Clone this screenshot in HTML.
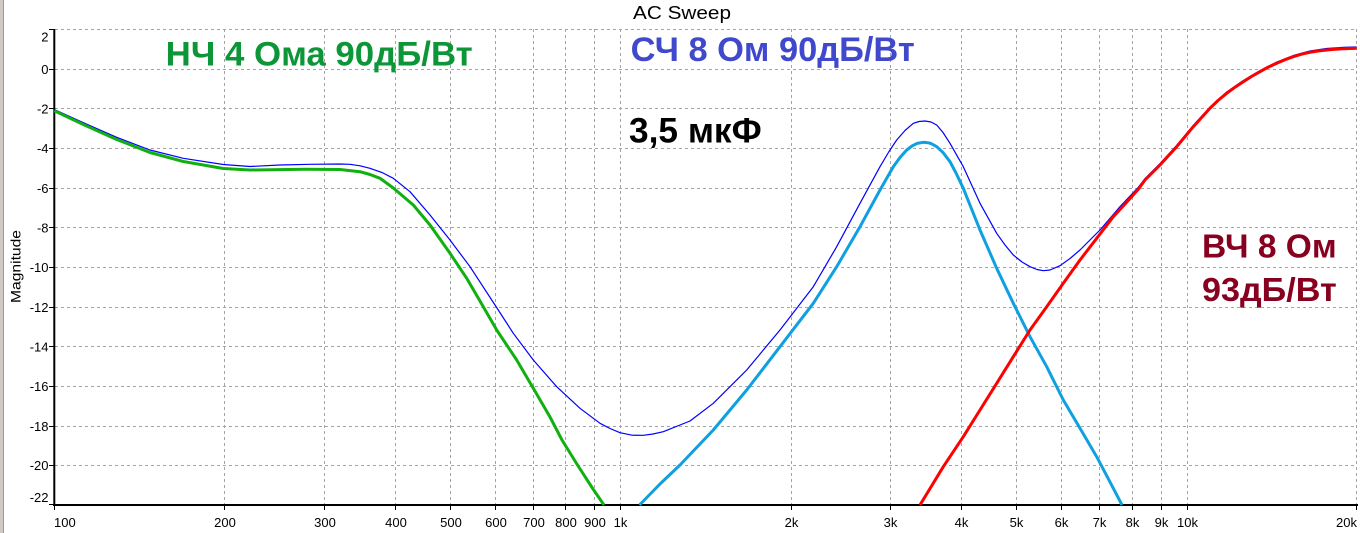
<!DOCTYPE html>
<html><head><meta charset="utf-8"><style>
html,body{margin:0;padding:0;background:#fff;}
svg{display:block;}
</style></head><body>
<svg width="1360" height="533" viewBox="0 0 1360 533" xmlns="http://www.w3.org/2000/svg">
<rect x="0" y="0" width="1360" height="533" fill="#fff"/>
<rect x="0" y="0" width="3" height="533" fill="#cfcbc4"/>
<rect x="3" y="0" width="1" height="533" fill="#9c9a96"/>

<!-- title -->
<text x="633" y="19" font-family="Liberation Sans, sans-serif" font-size="18" textLength="98" lengthAdjust="spacingAndGlyphs" fill="#000">AC Sweep</text>

<!-- grid -->
<g stroke="#a4a4a4" stroke-width="1" stroke-dasharray="3,3" fill="none">
<line x1="55" y1="29.5" x2="1357" y2="29.5"/>
<line x1="55" y1="69.5" x2="1357" y2="69.5"/>
<line x1="55" y1="108.5" x2="1357" y2="108.5"/>
<line x1="55" y1="148.5" x2="1357" y2="148.5"/>
<line x1="55" y1="188.5" x2="1357" y2="188.5"/>
<line x1="55" y1="227.5" x2="1357" y2="227.5"/>
<line x1="55" y1="267.5" x2="1357" y2="267.5"/>
<line x1="55" y1="307.5" x2="1357" y2="307.5"/>
<line x1="55" y1="346.5" x2="1357" y2="346.5"/>
<line x1="55" y1="386.5" x2="1357" y2="386.5"/>
<line x1="55" y1="426.5" x2="1357" y2="426.5"/>
<line x1="55" y1="465.5" x2="1357" y2="465.5"/>
<line x1="224.5" y1="29" x2="224.5" y2="505"/>
<line x1="324.5" y1="29" x2="324.5" y2="505"/>
<line x1="395.5" y1="29" x2="395.5" y2="505"/>
<line x1="450.5" y1="29" x2="450.5" y2="505"/>
<line x1="495.5" y1="29" x2="495.5" y2="505"/>
<line x1="533.5" y1="29" x2="533.5" y2="505"/>
<line x1="565.5" y1="29" x2="565.5" y2="505"/>
<line x1="594.5" y1="29" x2="594.5" y2="505"/>
<line x1="620.5" y1="29" x2="620.5" y2="505"/>
<line x1="791.5" y1="29" x2="791.5" y2="505"/>
<line x1="890.5" y1="29" x2="890.5" y2="505"/>
<line x1="961.5" y1="29" x2="961.5" y2="505"/>
<line x1="1016.5" y1="29" x2="1016.5" y2="505"/>
<line x1="1061.5" y1="29" x2="1061.5" y2="505"/>
<line x1="1099.5" y1="29" x2="1099.5" y2="505"/>
<line x1="1132.5" y1="29" x2="1132.5" y2="505"/>
<line x1="1161.5" y1="29" x2="1161.5" y2="505"/>
<line x1="1187.5" y1="29" x2="1187.5" y2="505"/>
<line x1="1356.5" y1="29" x2="1356.5" y2="505"/>
</g>

<!-- axes -->
<g stroke="#000" fill="none">
<line x1="54.3" y1="29" x2="54.3" y2="506" stroke-width="2"/>
<line x1="53" y1="505" x2="1358" y2="505" stroke-width="2"/>
<g stroke-width="1">
<line x1="49" y1="29.5" x2="54" y2="29.5"/>
<line x1="49" y1="69.5" x2="54" y2="69.5"/>
<line x1="49" y1="108.5" x2="54" y2="108.5"/>
<line x1="49" y1="148.5" x2="54" y2="148.5"/>
<line x1="49" y1="188.5" x2="54" y2="188.5"/>
<line x1="49" y1="227.5" x2="54" y2="227.5"/>
<line x1="49" y1="267.5" x2="54" y2="267.5"/>
<line x1="49" y1="307.5" x2="54" y2="307.5"/>
<line x1="49" y1="346.5" x2="54" y2="346.5"/>
<line x1="49" y1="386.5" x2="54" y2="386.5"/>
<line x1="49" y1="426.5" x2="54" y2="426.5"/>
<line x1="49" y1="465.5" x2="54" y2="465.5"/>
<line x1="49" y1="504.5" x2="54" y2="504.5"/>
<line x1="54.5" y1="505" x2="54.5" y2="510"/>
<line x1="224.5" y1="505" x2="224.5" y2="510"/>
<line x1="324.5" y1="505" x2="324.5" y2="510"/>
<line x1="395.5" y1="505" x2="395.5" y2="510"/>
<line x1="450.5" y1="505" x2="450.5" y2="510"/>
<line x1="495.5" y1="505" x2="495.5" y2="510"/>
<line x1="533.5" y1="505" x2="533.5" y2="510"/>
<line x1="565.5" y1="505" x2="565.5" y2="510"/>
<line x1="594.5" y1="505" x2="594.5" y2="510"/>
<line x1="620.5" y1="505" x2="620.5" y2="510"/>
<line x1="791.5" y1="505" x2="791.5" y2="510"/>
<line x1="890.5" y1="505" x2="890.5" y2="510"/>
<line x1="961.5" y1="505" x2="961.5" y2="510"/>
<line x1="1016.5" y1="505" x2="1016.5" y2="510"/>
<line x1="1061.5" y1="505" x2="1061.5" y2="510"/>
<line x1="1099.5" y1="505" x2="1099.5" y2="510"/>
<line x1="1132.5" y1="505" x2="1132.5" y2="510"/>
<line x1="1161.5" y1="505" x2="1161.5" y2="510"/>
<line x1="1187.5" y1="505" x2="1187.5" y2="510"/>
<line x1="1356.5" y1="505" x2="1356.5" y2="510"/>
</g>
</g>

<!-- y labels -->
<g font-family="Liberation Sans, sans-serif" font-size="13" fill="#000" text-anchor="end">
<text x="48.5" y="41.5">2</text>
<text x="48.5" y="74">0</text>
<text x="48.5" y="113.5">-2</text>
<text x="48.5" y="153">-4</text>
<text x="48.5" y="193">-6</text>
<text x="48.5" y="232.5">-8</text>
<text x="48.5" y="272">-10</text>
<text x="48.5" y="312">-12</text>
<text x="48.5" y="351.5">-14</text>
<text x="48.5" y="391">-16</text>
<text x="48.5" y="431">-18</text>
<text x="48.5" y="470">-20</text>
<text x="48.5" y="502">-22</text>
</g>
<text transform="translate(20.5,266.5) rotate(-90)" font-family="Liberation Sans, sans-serif" font-size="14" text-anchor="middle" textLength="73" lengthAdjust="spacingAndGlyphs" fill="#000">Magnitude</text>

<!-- x labels -->
<g font-family="Liberation Sans, sans-serif" font-size="13" fill="#000" text-anchor="middle">
<text x="54" y="527" text-anchor="start">100</text>
<text x="225" y="527">200</text>
<text x="325" y="527">300</text>
<text x="396" y="527">400</text>
<text x="451" y="527">500</text>
<text x="496" y="527">600</text>
<text x="534" y="527">700</text>
<text x="566" y="527">800</text>
<text x="595" y="527">900</text>
<text x="620.5" y="527">1k</text>
<text x="791.5" y="527">2k</text>
<text x="890.5" y="527">3k</text>
<text x="961.5" y="527">4k</text>
<text x="1016.5" y="527">5k</text>
<text x="1061.5" y="527">6k</text>
<text x="1099.5" y="527">7k</text>
<text x="1132.5" y="527">8k</text>
<text x="1161.5" y="527">9k</text>
<text x="1187.5" y="527">10k</text>
<text x="1357" y="527" text-anchor="end">20k</text>
</g>

<!-- curves -->
<polyline fill="none" stroke="#0000ff" stroke-width="1.2" stroke-linejoin="round" points="54.3,109.5 83.3,122.7 116.7,137.3 150,150 183.3,158.3 223.3,164.5 250,166.5 280,165 310,164.3 340,164 350,164.3 360,165.8 370,168.3 382,172.5 393.3,178.3 410,191.7 430,215 450,240 470,266.7 495,305 513.3,333.3 533.3,360 556.7,386.7 580,408.3 600,423.3 610,428.5 620,432.7 632,435.2 643.3,435.3 653,434 663.3,431.7 680,425 690,421 713.3,403.3 746.7,370 780,330 813.3,286.7 836.7,246.7 860,203.3 880,166.7 889,151.5 896.7,140 905,130.5 913.3,123.3 919,121.5 925,121 931,122 936.7,125 943,132.5 950,143.3 963.3,166.7 980,203.3 996.7,233.3 1005,245 1013.3,255 1022,262 1030,266.7 1037,269.5 1043.3,270.7 1050,270 1060,265.7 1070,258.5 1080,250 1100,230 1120,206.7 1138.3,187.3 1145,178.5 1160,163.5 1176.7,145.3 1193.3,125.3 1210,107 1226.7,92 1243.3,80.5 1260,70.5 1276.7,62 1293.3,55.5 1310,51 1326.7,48.5 1343.3,47.3 1356.7,47"/>

<polyline fill="none" stroke="#10b010" stroke-width="3" stroke-linejoin="round" points="54.3,110.8 83.3,124.5 116.7,139.5 150,152.5 183.3,161.5 223.3,168.5 250,170 305,169.3 340,169.5 360,171.7 370,174.5 380,178.3 393.3,188 413.3,205 430,225 450,253.3 466.7,278.3 483.3,306.7 496.7,330 516.7,360 533.3,388.3 550,417 562,440 577.5,465 593,489 604,505"/>

<polyline fill="none" stroke="#0ea0e0" stroke-width="3" stroke-linejoin="round" points="639.5,505 660,484 680,465 713.3,430 746.7,390 780,346.7 813.3,303.3 836.7,266.7 860,226.7 880,190 893.3,166.7 900,157.5 906.7,150 912,146 917,143.4 923.3,142.3 928,142.7 931,143.5 936.7,146.7 943,152.5 950,161.7 956,173 963.3,188.3 980,230 996.7,268.3 1013.3,303.3 1030,336.7 1046.7,366.7 1063.3,400 1080,428.3 1096.7,456.7 1113.3,488.3 1122,505"/>

<polyline fill="none" stroke="#ff0000" stroke-width="3" stroke-linejoin="round" points="920,505 943.3,466.7 963.3,436.7 980,410 996.7,383.3 1013.3,356.7 1030,330 1046.7,306.7 1063.3,283.3 1080,260 1096.7,238.3 1113.3,216.7 1126,203 1138.3,189.3 1145,180 1160,165 1176.7,146.7 1193.3,126.7 1210,108.3 1218,100.5 1226.7,93.3 1235,87.2 1243.3,81.7 1251.5,76.5 1260,71.7 1268,67.2 1276.7,63.3 1285,59.7 1293.3,56.7 1301.5,54.2 1310,52.3 1318,51 1326.7,50 1335,49.2 1343.3,48.7 1356.7,48.3"/>

<!-- annotations -->
<g font-family="Liberation Sans, sans-serif" font-weight="bold">
<text x="165.7" y="65.7" font-size="34" fill="#0c9637" textLength="307" lengthAdjust="spacingAndGlyphs">НЧ 4 Ома 90дБ/Вт</text>
<text x="630.7" y="61" font-size="34" fill="#4048cc" textLength="284" lengthAdjust="spacingAndGlyphs">СЧ 8 Ом 90дБ/Вт</text>
<text x="629" y="142.3" font-size="35" fill="#000" textLength="132.7" lengthAdjust="spacingAndGlyphs">3,5 мкФ</text>
<text x="1202" y="257.3" font-size="33" fill="#880020" textLength="134.7" lengthAdjust="spacingAndGlyphs">ВЧ 8 Ом</text>
<text x="1202" y="301" font-size="33" fill="#880020" textLength="134.7" lengthAdjust="spacingAndGlyphs">93дБ/Вт</text>
</g>
</svg>
</body></html>
